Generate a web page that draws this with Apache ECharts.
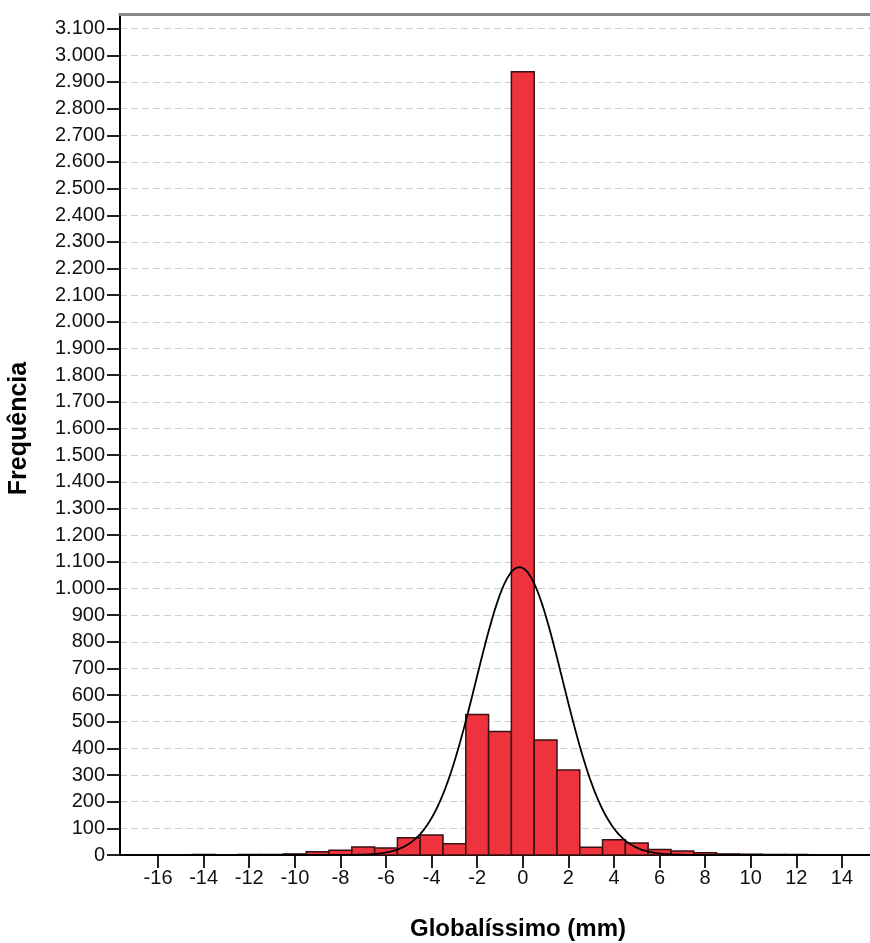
<!DOCTYPE html>
<html><head><meta charset="utf-8">
<script src="https://cdn.jsdelivr.net/npm/echarts@6/dist/echarts.min.js"></script>
<style>html,body{margin:0;padding:0;background:#fff}#c{width:870px;height:943px}</style>
</head><body><div id="c"></div>
<script>
// Histogram bins (centre of each 1 mm wide bin) and frequencies
const binCenters = [-17,-16,-15,-14,-13,-12,-11,-10,-9,-8,-7,-6,-5,-4,-3,-2,-1,0,1,2,3,4,5,6,7,8,9,10,11,12,13,14];
const frequencies = [1,1,1,2,1,2,2,4,12,18,30,26,65,75,42,527,463,2938,431,319,29,57,45,21,15,8,4,3,2,2,1,1];
const xTickValues = [-16,-14,-12,-10,-8,-6,-4,-2,0,2,4,6,8,10,12,14];
const yTickValues = [0,100,200,300,400,500,600,700,800,900,1000,1100,1200,1300,1400,1500,1600,1700,1800,1900,2000,2100,2200,2300,2400,2500,2600,2700,2800,2900,3000,3100];
// Fitted normal curve parameters
const curveMean = -0.15;
const curveSd = 1.9;
const curvePeak = 1080;

const binWidth = 1;
const curveData = [];
for (let x = -17.7; x <= 17.3; x += 0.05) {
  const z = (x - curveMean) / curveSd;
  curveData.push([x, curvePeak * Math.exp(-0.5 * z * z)]);
}
const barData = binCenters.map((c, i) => [c, frequencies[i]]);

function fmt(v) {
  if (v >= 1000) return Math.floor(v / 1000) + '.' + String(v % 1000).padStart(3, '0');
  return String(v);
}

const chart = echarts.init(document.getElementById('c'), null, {renderer: 'canvas'});
const font = 'Liberation Sans, Arial, sans-serif';
chart.setOption({
  animation: false,
  grid: {left: 120, right: -46, top: 14, bottom: 88, outerBoundsMode: 'none', containLabel: false},
  xAxis: [{
    type: 'value', min: -17.67, max: 17.25,
    name: 'Globalíssimo (mm)', nameLocation: 'middle', nameGap: 62,
    nameTextStyle: {fontFamily: font, fontWeight: 'bold', fontSize: 24, color: '#000'},
    axisLine: {onZero: false, lineStyle: {color: '#000', width: 2}},
    axisTick: {show: true, customValues: xTickValues, length: 13, lineStyle: {color: '#222', width: 2}},
    axisLabel: {customValues: xTickValues, fontFamily: font, fontSize: 20, color: '#111', margin: 13},
    splitLine: {show: false}
  }, {
    type: 'value', position: 'top', min: -17.67, max: 17.25,
    axisLine: {show: true, onZero: false, lineStyle: {color: '#888', width: 3}},
    axisTick: {show: false}, axisLabel: {show: false}, splitLine: {show: false}
  }],
  yAxis: {
    type: 'value', min: 0, max: 3155, interval: 100,
    name: 'Frequência', nameLocation: 'middle', nameGap: 88,
    nameTextStyle: {fontFamily: font, fontWeight: 'bold', fontSize: 25, color: '#000', padding: [0, 0, 0, 12]},
    axisLine: {show: true, onZero: false, lineStyle: {color: '#000', width: 2}},
    axisTick: {show: true, customValues: yTickValues, length: 13, lineStyle: {color: '#222', width: 2}},
    axisLabel: {customValues: yTickValues, formatter: fmt, fontFamily: font, fontSize: 20, color: '#111', margin: 15},
    splitLine: {show: true, lineStyle: {color: '#cfcfcf', type: [7, 4], width: 1}}
  },
  series: [{
    type: 'custom',
    data: barData,
    z: 2,
    renderItem: function (params, api) {
      const x = api.value(0), y = api.value(1);
      const p0 = api.coord([x - binWidth / 2, 0]);
      const p1 = api.coord([x + binWidth / 2, y]);
      return {
        type: 'rect',
        shape: {x: p0[0], y: p1[1], width: p1[0] - p0[0], height: p0[1] - p1[1]},
        style: {fill: '#ef333d', stroke: '#3a1010', lineWidth: 1.5}
      };
    }
  }, {
    type: 'line', data: curveData, showSymbol: false, symbol: 'none', z: 3,
    lineStyle: {color: '#000', width: 1.8}
  }]
});
</script></body></html>
